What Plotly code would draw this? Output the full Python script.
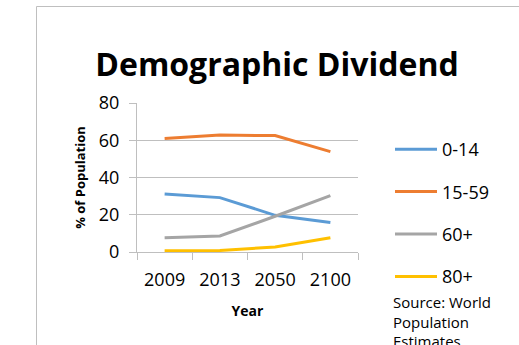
import plotly.graph_objects as go

# Share of population by age group, World Population Estimates
years = ["2009", "2013", "2050", "2100"]
age_0_14 = [31.1, 29.2, 19.7, 15.9]
age_15_59 = [61.0, 62.8, 62.5, 53.9]
age_60_plus = [7.7, 8.6, 19.2, 30.3]
age_80_plus = [0.7, 0.8, 2.7, 7.7]

series_names = ["0-14", "15-59", "60+", "80+"]
series_values = [age_0_14, age_15_59, age_60_plus, age_80_plus]
series_colors = ["#5B9BD5", "#ED7D31", "#A5A5A5", "#FFC000"]

W, H = 519, 345
L, R, T, B = 137, 161, 103, 93
plot_w = W - L - R
plot_h = H - T - B

FONT = "Open Sans"

fig = go.Figure()
for i, (name, vals, col) in enumerate(zip(series_names, series_values, series_colors)):
    fig.add_trace(go.Scatter(
        x=years, y=vals, name=name, mode="lines",
        line=dict(color=col, width=3),
        legendgroup=f"g{i}",
    ))

def px_x(p):
    return (p - L) / plot_w

def px_y(p):
    return (H - B - p) / plot_h

fig.update_layout(
    width=W, height=H, autosize=False,
    margin=dict(l=L, r=R, t=T, b=B, pad=0),
    paper_bgcolor="white", plot_bgcolor="white",
    font=dict(family=FONT, color="#000000", size=18),
    title=dict(
        text="<b>Demographic Dividend</b>",
        font=dict(family=FONT, size=32, color="#000000"),
        x=277 / W, xanchor="center", xref="container",
        y=1 - 65 / H, yanchor="middle", yref="container",
    ),
    xaxis=dict(
        type="category", range=[-0.5, len(years) - 0.5], showgrid=False,
        showline=True, linecolor="#BFBFBF", linewidth=1,
        ticks="outside", ticklen=7, tickcolor="#BFBFBF", tickson="boundaries",
        tickfont=dict(size=18), ticklabelstandoff=11,
        title=dict(text="<b>Year</b>", font=dict(size=14), standoff=16),
        zeroline=False,
    ),
    yaxis=dict(
        range=[0, 80], dtick=20, tick0=0,
        showgrid=True, gridcolor="#BFBFBF", gridwidth=1,
        showline=True, linecolor="#BFBFBF", linewidth=1,
        ticks="outside", ticklen=7, tickcolor="#BFBFBF",
        tickfont=dict(size=18), ticklabelstandoff=6,
        title=dict(text="<b>% of Population</b>", font=dict(size=13), standoff=10),
        zeroline=False,
    ),
    legend=dict(
        x=px_x(390), xanchor="left",
        y=px_y(131), yanchor="top",
        font=dict(size=18), itemwidth=42,
        tracegroupgap=16, bgcolor="rgba(0,0,0,0)",
        maxheight=400,
    ),
    showlegend=True,
)

# Outer chart frame
fig.add_shape(
    type="rect", xref="paper", yref="paper",
    x0=px_x(36.5), x1=px_x(540), y0=px_y(6.5), y1=px_y(380),
    line=dict(color="#BFBFBF", width=1), fillcolor="rgba(0,0,0,0)", layer="below",
)

fig.add_annotation(
    text="Source: World<br>Population<br>Estimates",
    xref="paper", yref="paper", x=px_x(391), y=px_y(290),
    xanchor="left", yanchor="top", align="left", showarrow=False,
    font=dict(size=15, family=FONT, color="#000000"),
)

fig.write_html("out.html")
